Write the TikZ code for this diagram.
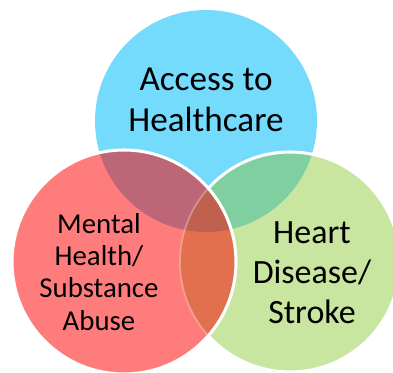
\documentclass[tikz,border=0pt]{standalone}
\usepackage{fontspec}
\setmainfont{Carlito}
\usepackage{xcolor}
\usetikzlibrary{positioning}

\definecolor{accessblue}{HTML}{75DBFD}
\definecolor{mentalred}{HTML}{FF7C7C}
\definecolor{heartgreen}{HTML}{C8E6A0}
\definecolor{blueredmix}{HTML}{BD6677}
\definecolor{bluegreenmix}{HTML}{80CFA0}
\definecolor{redgreenmix}{HTML}{E2704F}
\definecolor{allmix}{HTML}{C0614F}

\begin{document}
\begin{tikzpicture}[
  x=0.03cm, y=-0.03cm,
  rim/.style={draw=white, line width=2.6pt},
  circtext/.style={align=center, inner sep=0pt, text=black},
]
\useasboundingbox (0,0) rectangle (393,373);

% Circle centres
\coordinate (access) at (206,121);
\coordinate (mental) at (124,262);
\coordinate (heart) at (290,262);

% Access to healthcare
\fill[accessblue] (access) circle (3.33cm);

% Heart disease, with its overlap on the blue one
\fill[heartgreen] (heart) circle (3.3cm);
\begin{scope}
  \clip (access) circle (3.33cm);
  \fill[bluegreenmix] (heart) circle (3.3cm);
\end{scope}
\draw[rim] (heart) circle (3.3cm);

% Mental health, on top of both
\fill[mentalred] (mental) circle (3.36cm);
\begin{scope}
  \clip (mental) circle (3.36cm);
  \fill[blueredmix] (access) circle (3.33cm);
  \fill[redgreenmix] (heart) circle (3.3cm);
  \clip (access) circle (3.33cm);
  \fill[allmix] (heart) circle (3.3cm);
\end{scope}
\begin{scope}
  \clip (mental) circle (3.36cm);
  \draw[white, opacity=0.3, line width=1.5pt] (heart) circle (3.3cm);
\end{scope}
\draw[rim] (mental) circle (3.36cm);

% Labels
\node[circtext, font=\fontsize{30}{34.5}\selectfont] (accesstext) at (206,100) {Access to\\Healthcare};
\node[circtext, font=\fontsize{24.6}{27.4}\selectfont] (mentaltext) at (99,272) {Mental\\Health/\\Substance\\Abuse};
\node[circtext, font=\fontsize{29}{34}\selectfont] (hearttext) at (312,273) {Heart\\Disease/\\Stroke};
\end{tikzpicture}
\end{document}
